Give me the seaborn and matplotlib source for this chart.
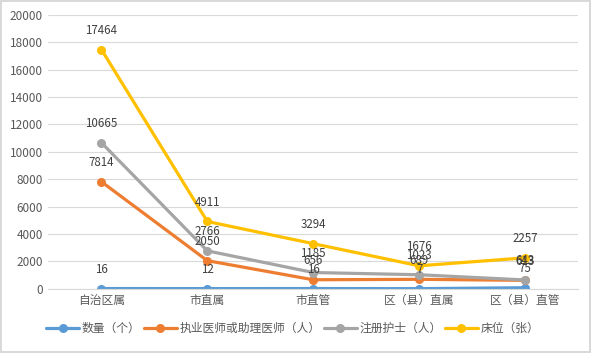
import pandas as pd
import numpy as np
import matplotlib
matplotlib.use("Agg")
import matplotlib.pyplot as plt
import seaborn as sns

# data
categories = ["自治区属", "市直属", "市直管", "区（县）直属", "区（县）直管"]
series_names = ["数量（个）", "执业医师或助理医师（人）", "注册护士（人）", "床位（张）"]
count_vals = [16, 12, 16, 7, 75]
doctor_vals = [7814, 2050, 656, 689, 613]
nurse_vals = [10665, 2766, 1185, 1023, 643]
bed_vals = [17464, 4911, 3294, 1676, 2257]
colors = ["#5B9BD5", "#ED7D31", "#A5A5A5", "#FFC000"]

rows = []
for name, vals in zip(series_names, [count_vals, doctor_vals, nurse_vals, bed_vals]):
    for c, v in zip(categories, vals):
        rows.append({"cat": c, "value": v, "series": name})
df = pd.DataFrame(rows)

sns.set_style("white")
plt.rcParams['font.family'] = ['Noto Sans CJK SC', 'DejaVu Sans']
text_color = "#595959"

fig, ax = plt.subplots(figsize=(5.91, 3.53), dpi=100)
fig.subplots_adjust(left=0.082, right=0.978, top=0.958, bottom=0.182)

sns.lineplot(data=df, x="cat", y="value", hue="series", hue_order=series_names,
             palette=colors, sort=False, marker="o", markersize=6.5,
             markeredgewidth=0, linewidth=2.3, ax=ax, legend=True)

# data labels above points
for name, vals in zip(series_names, [count_vals, doctor_vals, nurse_vals, bed_vals]):
    for i, v in enumerate(vals):
        ax.annotate(str(v), (i, v), xytext=(0, 9), textcoords="offset points",
                    ha="center", va="bottom", fontsize=8.3, color="#404040")

ax.set_ylim(0, 20000)
ax.set_yticks(np.arange(0, 20001, 2000))
ax.set_xlim(-0.5, 4.5)
ax.grid(axis="y", color="#D9D9D9", linewidth=0.8)
ax.set_axisbelow(True)
for s in ["left", "right", "top"]:
    ax.spines[s].set_visible(False)
ax.spines["bottom"].set_color("#D9D9D9")
ax.tick_params(axis="both", length=0, labelsize=8.5, colors=text_color, pad=4)
ax.set_xlabel("")
ax.set_ylabel("")

handles, labels = ax.get_legend_handles_labels()
ax.get_legend().remove()
leg = fig.legend(handles, labels, loc="center", bbox_to_anchor=(0.495, 0.07),
                 ncol=4, frameon=False, fontsize=8.5, handlelength=2.8,
                 handletextpad=0.2, columnspacing=0.3)
for t in leg.get_texts():
    t.set_color(text_color)

fig.patch.set_edgecolor("#D9D9D9")
fig.patch.set_linewidth(1.5)

plt.savefig("out.png", dpi=100)
